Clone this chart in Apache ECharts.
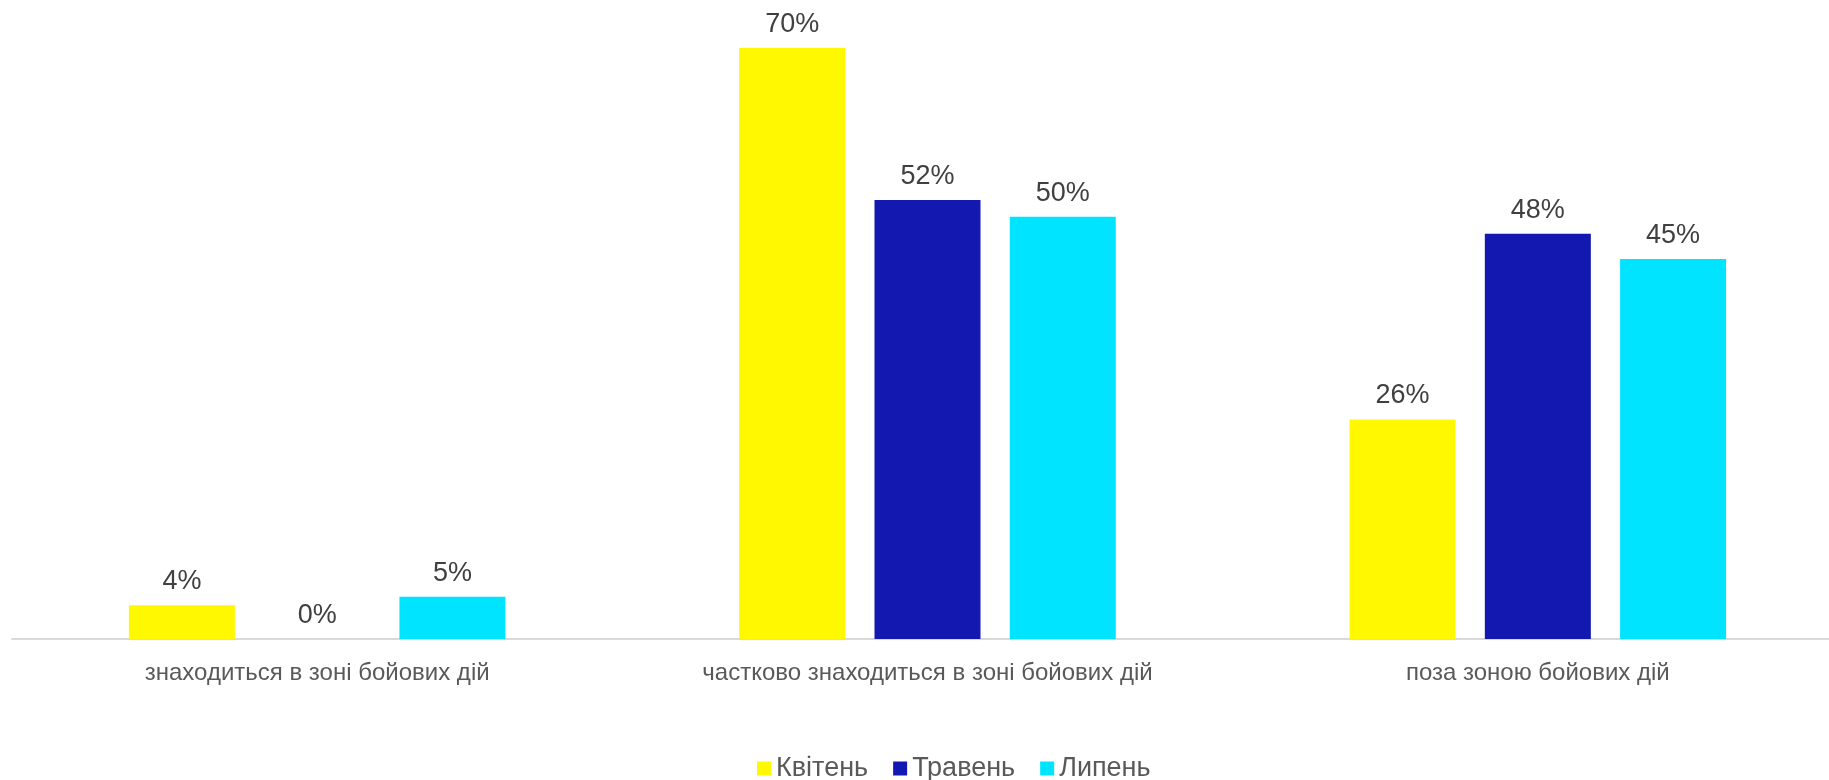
<!DOCTYPE html>
<html>
<head>
<meta charset="utf-8">
<title>Розташування</title>
<script src="https://cdn.jsdelivr.net/npm/echarts@6/dist/echarts.min.js"></script>
<style>
  html, body { margin: 0; padding: 0; background: #ffffff; }
  #chart { width: 1829px; height: 780px; }
</style>
</head>
<body>
<div id="chart"></div>
<script>
// Categories along the x axis
const categories = [
  'знаходиться в зоні бойових дій',
  'частково знаходиться в зоні бойових дій',
  'поза зоною бойових дій'
];

// Share of responses per month (fractions)
const seriesNames = ['Квітень', 'Травень', 'Липень'];
const aprilValues = [0.04, 0.70, 0.26];
const mayValues = [0.00, 0.52, 0.48];
const julyValues = [0.05, 0.50, 0.45];

const seriesColors = ['#FFF800', '#1218B0', '#00E4FF'];
const FONT = '"Liberation Sans", Arial, sans-serif';

const chart = echarts.init(document.getElementById('chart'), null, { renderer: 'canvas' });

function makeSeries(name, values, color) {
  return {
    name: name,
    type: 'bar',
    data: values,
    barWidth: 106,
    barGap: '27.6%',
    itemStyle: { color: color },
    label: {
      show: true,
      position: 'top',
      distance: 10,
      color: '#404040',
      fontFamily: FONT,
      fontSize: 27,
      formatter: p => Math.round(p.value * 100) + '%'
    }
  };
}

chart.setOption({
  animation: false,
  backgroundColor: '#ffffff',
  // plot area runs slightly past the right edge of the canvas
  grid: {
    left: 12, width: 1831, top: 48, bottom: 141,
    containLabel: false,
    outerBoundsMode: 'none'
  },
  legend: {
    data: seriesNames,
    left: 757,
    top: 755,
    padding: 0,
    itemWidth: 14,
    itemHeight: 14,
    itemGap: 25,
    icon: 'rect',
    textStyle: { color: '#595959', fontFamily: FONT, fontSize: 27 }
  },
  xAxis: {
    type: 'category',
    data: categories,
    axisTick: { show: false },
    axisLine: { lineStyle: { color: '#d9d9d9', width: 2 } },
    axisLabel: {
      color: '#595959',
      fontFamily: FONT,
      fontSize: 24,
      margin: 22,
      interval: 0
    }
  },
  yAxis: {
    type: 'value',
    min: 0,
    max: 0.7,
    show: false,
    splitLine: { show: false }
  },
  series: [
    makeSeries(seriesNames[0], aprilValues, seriesColors[0]),
    makeSeries(seriesNames[1], mayValues, seriesColors[1]),
    makeSeries(seriesNames[2], julyValues, seriesColors[2])
  ]
});
</script>
</body>
</html>
